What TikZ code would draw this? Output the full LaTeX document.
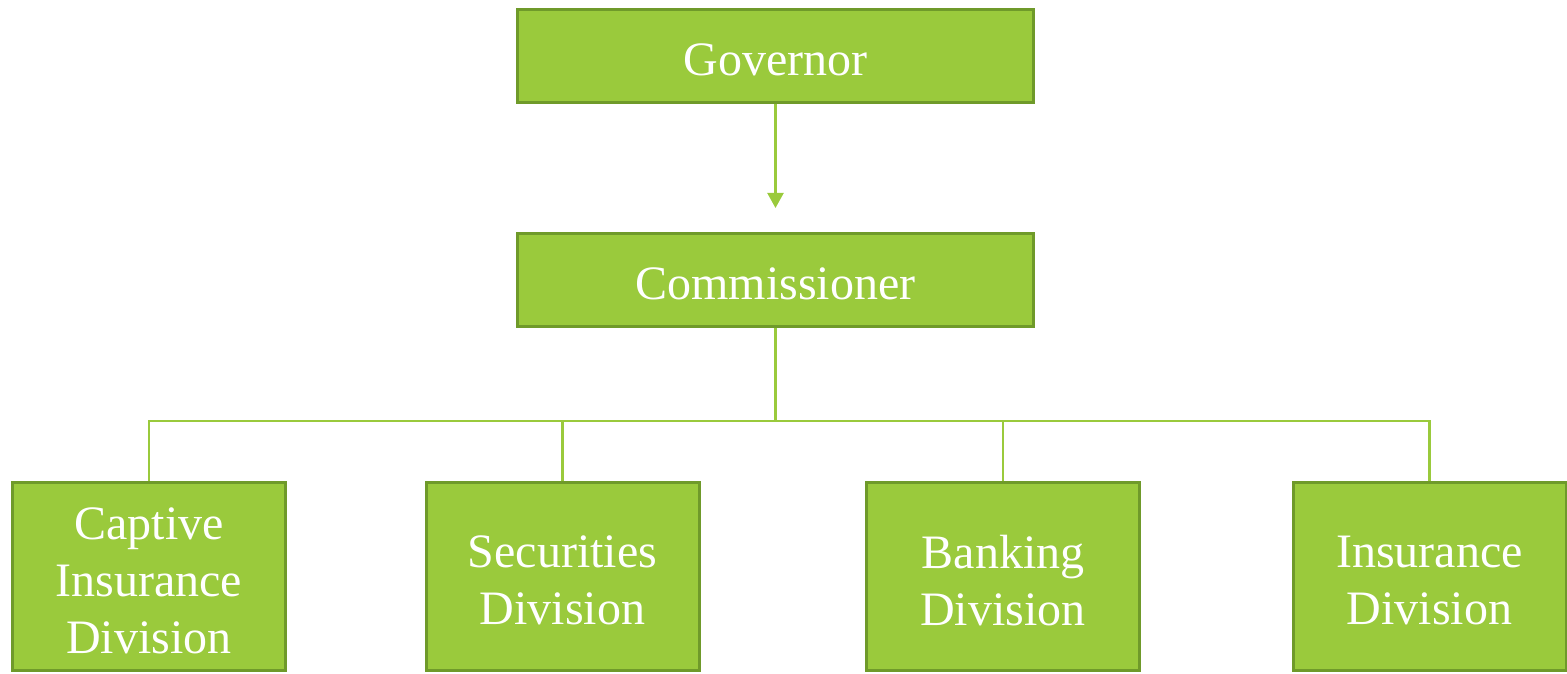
\documentclass[tikz,border=0pt]{standalone}
\usepackage{fontspec}
\setmainfont{Liberation Serif}
\usetikzlibrary{arrows.meta}
\definecolor{boxfill}{HTML}{9ACA3C}
\definecolor{boxline}{HTML}{6F9A2A}
\definecolor{linkc}{HTML}{9ACA3C}
\tikzset{
  orgbox/.style={draw=boxline, line width=3pt, fill=boxfill, inner sep=0pt},
  topbox/.style={orgbox, minimum width=516pt, minimum height=93pt},
  divbox/.style={orgbox, minimum width=273pt, minimum height=188pt},
  boxtext/.style={text=white, align=center, inner sep=0pt,
    font=\fontsize{48}{57}\selectfont, yshift=-4pt},
  link/.style={draw=linkc, line width=2.2pt},
}
\begin{document}
\begin{tikzpicture}[x=1pt,y=-1pt]
\useasboundingbox (0,0) rectangle (1567,674);
\node[topbox] (gov) at (775.5,56) {};
\node[topbox] (com) at (775.5,280) {};
\node[divbox] (cap) at (149,576.5) {};
\node[divbox] (sec) at (562.5,576.5) {};
\node[divbox] (bank) at (1003,576.5) {};
\node[divbox] (ins) at (1429.5,576.5) {};
\node[boxtext] (govt) at (gov.center) {Governor};
\node[boxtext] (comt) at (com.center) {Commissioner};
\node[boxtext] (capt) at (cap.center) {Captive\\Insurance\\Division};
\node[boxtext] (sect) at (sec.center) {Securities\\Division};
\node[boxtext] (bankt) at (bank.center) {Banking\\Division};
\node[boxtext] (inst) at (ins.center) {Insurance\\Division};
\coordinate (tip) at (775.5,208);
\coordinate (hub) at (775.5,421);
\draw[link, -{Triangle[width=16pt,length=15pt]}] (gov.south) -- (tip);
\draw[link] (com.south) -- (hub);
\draw[link] (cap.north) |- (hub) -| (ins.north);
\draw[link] (sec.north) -- (sec.north |- hub);
\draw[link] (bank.north) -- (bank.north |- hub);
\end{tikzpicture}
\end{document}
